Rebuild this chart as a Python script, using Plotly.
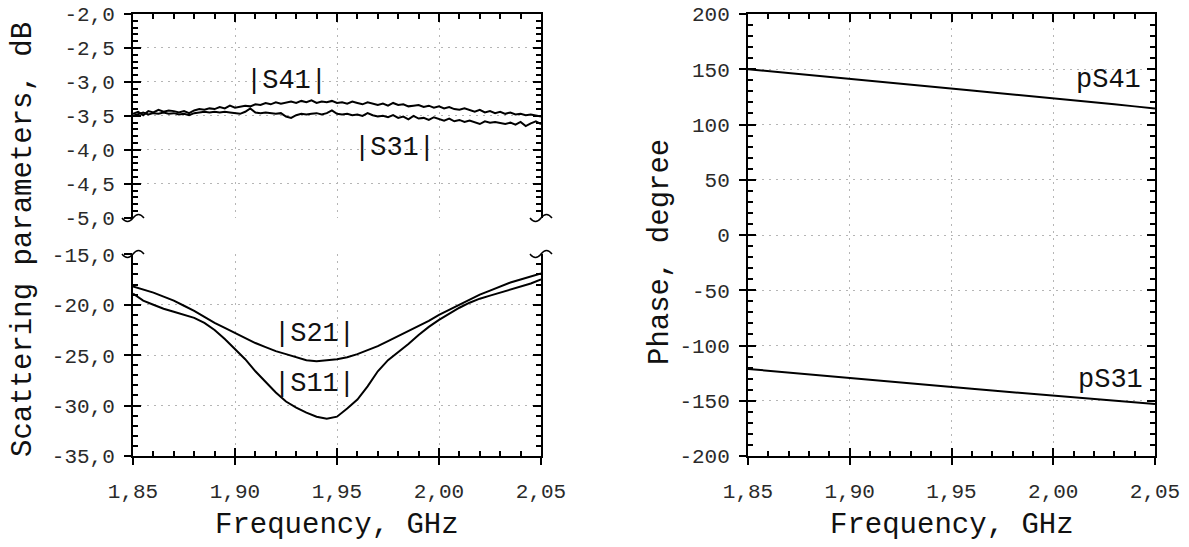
import plotly.graph_objects as go

# ---------------- data ----------------
freq_fine = [round(1.85 + 0.0025 * i, 4) for i in range(81)]
s41_db = [
    -3.47, -3.44, -3.49, -3.43, -3.45, -3.41, -3.44, -3.42, -3.43,
    -3.45, -3.43, -3.46, -3.42, -3.40, -3.41, -3.39, -3.40,
    -3.37, -3.39, -3.35, -3.38, -3.36, -3.35, -3.36, -3.33,
    -3.34, -3.31, -3.33, -3.30, -3.32, -3.31, -3.29, -3.31,
    -3.28, -3.30, -3.27, -3.31, -3.29, -3.30, -3.28, -3.31,
    -3.30, -3.32, -3.29, -3.31, -3.33, -3.30, -3.32, -3.34,
    -3.32, -3.35, -3.31, -3.34, -3.33, -3.36, -3.35, -3.34,
    -3.37, -3.35, -3.38, -3.36, -3.39, -3.37, -3.40, -3.41,
    -3.39, -3.42, -3.44, -3.41, -3.45, -3.43, -3.46, -3.44,
    -3.47, -3.45, -3.48, -3.47, -3.49, -3.48, -3.50, -3.51,
]
s31_db = [
    -3.50, -3.47, -3.45, -3.48, -3.46, -3.47, -3.45, -3.47, -3.46,
    -3.48, -3.47, -3.49, -3.46, -3.45, -3.44, -3.45, -3.44,
    -3.45, -3.44, -3.45, -3.46, -3.47, -3.44, -3.39, -3.45,
    -3.46, -3.45, -3.46, -3.47, -3.46, -3.51, -3.53, -3.49,
    -3.47, -3.48, -3.47, -3.46, -3.48, -3.46, -3.42, -3.47,
    -3.48, -3.47, -3.49, -3.48, -3.50, -3.46, -3.49, -3.51,
    -3.50, -3.52, -3.49, -3.53, -3.51, -3.55, -3.50, -3.54,
    -3.53, -3.56, -3.52, -3.55, -3.57, -3.54, -3.58, -3.56,
    -3.59, -3.57, -3.60, -3.62, -3.58, -3.60, -3.59, -3.61,
    -3.62, -3.60, -3.63, -3.59, -3.65, -3.61, -3.58, -3.62,
]

freq_mid = [round(1.85 + 0.005 * i, 3) for i in range(41)]
s21_db = [
    -18.2, -18.5, -18.8, -19.2, -19.6, -20.1, -20.6, -21.2, -21.8, -22.3,
    -22.8, -23.3, -23.8, -24.2, -24.6, -24.9, -25.2, -25.5, -25.6, -25.5,
    -25.4, -25.2, -24.9, -24.5, -24.1, -23.6, -23.1, -22.6, -22.1, -21.6,
    -21.0, -20.5, -20.0, -19.5, -19.0, -18.6, -18.2, -17.8, -17.5, -17.2,
    -16.9,
]
s11_db = [
    -18.9, -19.6, -20.0, -20.4, -20.7, -21.0, -21.3, -21.8, -22.5, -23.4,
    -24.4, -25.4, -26.6, -27.7, -28.7, -29.6, -30.2, -30.7, -31.1, -31.3,
    -31.1, -30.3, -29.4, -28.1, -26.6, -25.5, -24.7, -23.9, -23.0, -22.2,
    -21.5, -20.9, -20.3, -19.8, -19.4, -19.1, -18.8, -18.5, -18.2, -17.9,
    -17.5,
]

freq_coarse = [round(1.85 + 0.01 * i, 2) for i in range(21)]
ps41_deg = [150.0, 148.2, 146.3, 144.5, 142.8, 141.0, 139.3, 137.6, 135.9, 134.2,
            132.4, 130.7, 129.0, 127.3, 125.6, 123.9, 122.0, 120.2, 118.3, 116.4, 114.5]
ps31_deg = [-121.2, -122.9, -124.5, -126.1, -127.8, -129.4, -131.0, -132.7, -134.3, -135.9,
            -137.6, -139.2, -140.8, -142.4, -143.9, -145.5, -147.0, -148.5, -150.0, -151.5, -153.0]

x_tickvals = [1.85, 1.90, 1.95, 2.00, 2.05]
x_ticktext = ["1,85", "1,90", "1,95", "2,00", "2,05"]
ytop_tickvals = [-5.0, -4.5, -4.0, -3.5, -3.0, -2.5, -2.0]
ytop_ticktext = ["-5,0", "-4,5", "-4,0", "-3,5", "-3,0", "-2,5", "-2,0"]
ybot_tickvals = [-35, -30, -25, -20, -15]
ybot_ticktext = ["-35,0", "-30,0", "-25,0", "-20,0", "-15,0"]
ph_tickvals = [-200, -150, -100, -50, 0, 50, 100, 150, 200]
ph_ticktext = ["-200", "-150", "-100", "-50", "0", "50", "100", "150", "200"]

# ---------------- styling ----------------
FONT = "Liberation Mono, Courier New, monospace"
W, H = 1189, 547


def px(x):                   # page x pixel -> paper fraction
    return x / W


def py(y):                   # page y pixel -> paper fraction
    return (H - y) / H


LX = [px(133), px(541)]
RX = [px(748), px(1155)]
YB = [py(456), py(254)]
YT = [py(218), py(14)]
YR = [py(456), py(14)]
TICKFONT = dict(family=FONT, size=21, color="#2a2a2a")
GRID = dict(showgrid=True, gridcolor="#b5b5b5", griddash="2px,5px", gridwidth=1)
LINE = dict(width=2, color="black")


def main_axis(**kw):
    d = dict(showline=True, linecolor="black", linewidth=1.5, ticks="inside", ticklen=8,
             tickwidth=1.5, tickcolor="black", showticklabels=False, zeroline=False,
             tickmode="array", automargin=False, **GRID)
    d.update(kw)
    return d


def over_axis(**kw):
    d = dict(showline=False, ticks="outside", ticklen=8, tickwidth=1.5, tickcolor="black",
             showgrid=False, zeroline=False, tickmode="array", tickfont=TICKFONT,
             automargin=False, ticklabeloverflow="allow")
    d.update(kw)
    return d


fig = go.Figure()
fig.add_trace(go.Scatter(x=freq_fine, y=s41_db, mode="lines", line=LINE, xaxis="x2", yaxis="y2"))
fig.add_trace(go.Scatter(x=freq_fine, y=s31_db, mode="lines", line=LINE, xaxis="x2", yaxis="y2"))
fig.add_trace(go.Scatter(x=freq_mid, y=s21_db, mode="lines", line=LINE, xaxis="x", yaxis="y"))
fig.add_trace(go.Scatter(x=freq_mid, y=s11_db, mode="lines", line=LINE, xaxis="x", yaxis="y"))
fig.add_trace(go.Scatter(x=freq_coarse, y=ps41_deg, mode="lines", line=LINE, xaxis="x3", yaxis="y3"))
fig.add_trace(go.Scatter(x=freq_coarse, y=ps31_deg, mode="lines", line=LINE, xaxis="x3", yaxis="y3"))
# placeholder traces so the overlay (tick/label) axes are drawn
for xa, ya in [("x4", "y"), ("x", "y4"), ("x2", "y5"), ("x6", "y3"), ("x3", "y6")]:
    fig.add_trace(go.Scatter(x=[None], y=[None], xaxis=xa, yaxis=ya, hoverinfo="skip"))

minor_x = dict(dtick=0.01, tick0=1.85, ticks="inside", ticklen=5, tickwidth=1.5,
               tickcolor="black", showgrid=False)

XR = [1.85, 2.05]
YTR = [-5.004, -2.0]
YBR = [-35.0, -14.97]

fig.update_layout(
    width=W, height=H, margin=dict(l=0, r=0, t=0, b=0, autoexpand=False),
    paper_bgcolor="white", plot_bgcolor="white", showlegend=False,
    font=dict(family=FONT, color="black"),
    xaxis=main_axis(domain=LX, range=XR, anchor="y", mirror=False,
                    tickvals=x_tickvals, minor=minor_x),
    xaxis4=over_axis(overlaying="x", anchor="y", range=XR, side="bottom",
                     tickvals=x_tickvals, ticktext=x_ticktext, ticklabelstandoff=8),
    yaxis=main_axis(domain=YB, range=YBR, anchor="x", mirror="ticks",
                    tickvals=ybot_tickvals,
                    minor=dict(dtick=1, tick0=-35, ticks="inside", ticklen=5, tickwidth=1.5,
                               tickcolor="black", showgrid=False)),
    yaxis4=over_axis(overlaying="y", anchor="x", range=YBR, side="left",
                     tickvals=ybot_tickvals, ticktext=ybot_ticktext, ticklabelstandoff=5),
    xaxis2=main_axis(domain=LX, range=XR, anchor="y2", side="top", mirror=False,
                     tickvals=x_tickvals, minor=minor_x),
    yaxis2=main_axis(domain=YT, range=YTR, anchor="x2", mirror="ticks",
                     tickvals=ytop_tickvals,
                     minor=dict(dtick=0.1, tick0=-5, ticks="inside", ticklen=5, tickwidth=1.5,
                                tickcolor="black", showgrid=False)),
    yaxis5=over_axis(overlaying="y2", anchor="x2", range=YTR, side="left",
                     tickvals=ytop_tickvals, ticktext=ytop_ticktext, ticklabelstandoff=5),
    xaxis3=main_axis(domain=RX, range=XR, anchor="y3", mirror="ticks",
                     tickvals=x_tickvals, minor=minor_x),
    xaxis6=over_axis(overlaying="x3", anchor="y3", range=XR, side="bottom",
                     tickvals=x_tickvals, ticktext=x_ticktext, ticklabelstandoff=8),
    yaxis3=main_axis(domain=YR, range=[-200, 200], anchor="x3", mirror="ticks",
                     tickvals=ph_tickvals,
                     minor=dict(dtick=10, tick0=-200, ticks="inside", ticklen=5, tickwidth=1.5,
                                tickcolor="black", showgrid=False)),
    yaxis6=over_axis(overlaying="y3", anchor="x3", range=[-200, 200], side="left",
                     tickvals=ph_tickvals, ticktext=ph_ticktext, ticklabelstandoff=5),
)

# axis-break marks (tilde at the ends of each broken axis segment)
brk = "M-11,0 Q-5.5,-7 0,0 Q5.5,7 11,0"
for xp in LX:
    for yp in (YT[0], YB[1]):
        fig.add_shape(type="path", path=brk, xref="paper", yref="paper", xsizemode="pixel",
                      ysizemode="pixel", xanchor=xp, yanchor=yp,
                      line=dict(color="black", width=1.5), fillcolor="rgba(0,0,0,0)")

ANN = dict(family=FONT, size=27, color="#111")
TITLE = dict(family=FONT, size=29, color="#111")
anns = [
    dict(text="|S41|", x=1.925, y=-2.99, xref="x2", yref="y2", font=ANN),
    dict(text="|S31|", x=1.978, y=-3.97, xref="x2", yref="y2", font=ANN),
    dict(text="|S21|", x=1.939, y=-22.9, xref="x", yref="y", font=ANN),
    dict(text="|S11|", x=1.939, y=-27.9, xref="x", yref="y", font=ANN),
    dict(text="pS41", x=2.027, y=140, xref="x3", yref="y3", font=ANN),
    dict(text="pS31", x=2.028, y=-131, xref="x3", yref="y3", font=ANN),
    dict(text="Frequency, GHz", x=(LX[0] + LX[1]) / 2, y=py(525), xref="paper",
         yref="paper", font=TITLE),
    dict(text="Frequency, GHz", x=(RX[0] + RX[1]) / 2, y=py(525), xref="paper",
         yref="paper", font=TITLE),
    dict(text="Scattering parameters, dB", x=px(23), y=py(240), xref="paper",
         yref="paper", textangle=-90, font=TITLE),
    dict(text="Phase, degree", x=px(660), y=py(252), xref="paper",
         yref="paper", textangle=-90, font=TITLE),
]
for a in anns:
    fig.add_annotation(showarrow=False, xanchor="center", yanchor="middle", **a)

# remove the browser's default 8px body margin so the figure fills the window
fig.write_html("out.html", config={"displayModeBar": False},
               post_script="document.body.style.margin='0px';")
